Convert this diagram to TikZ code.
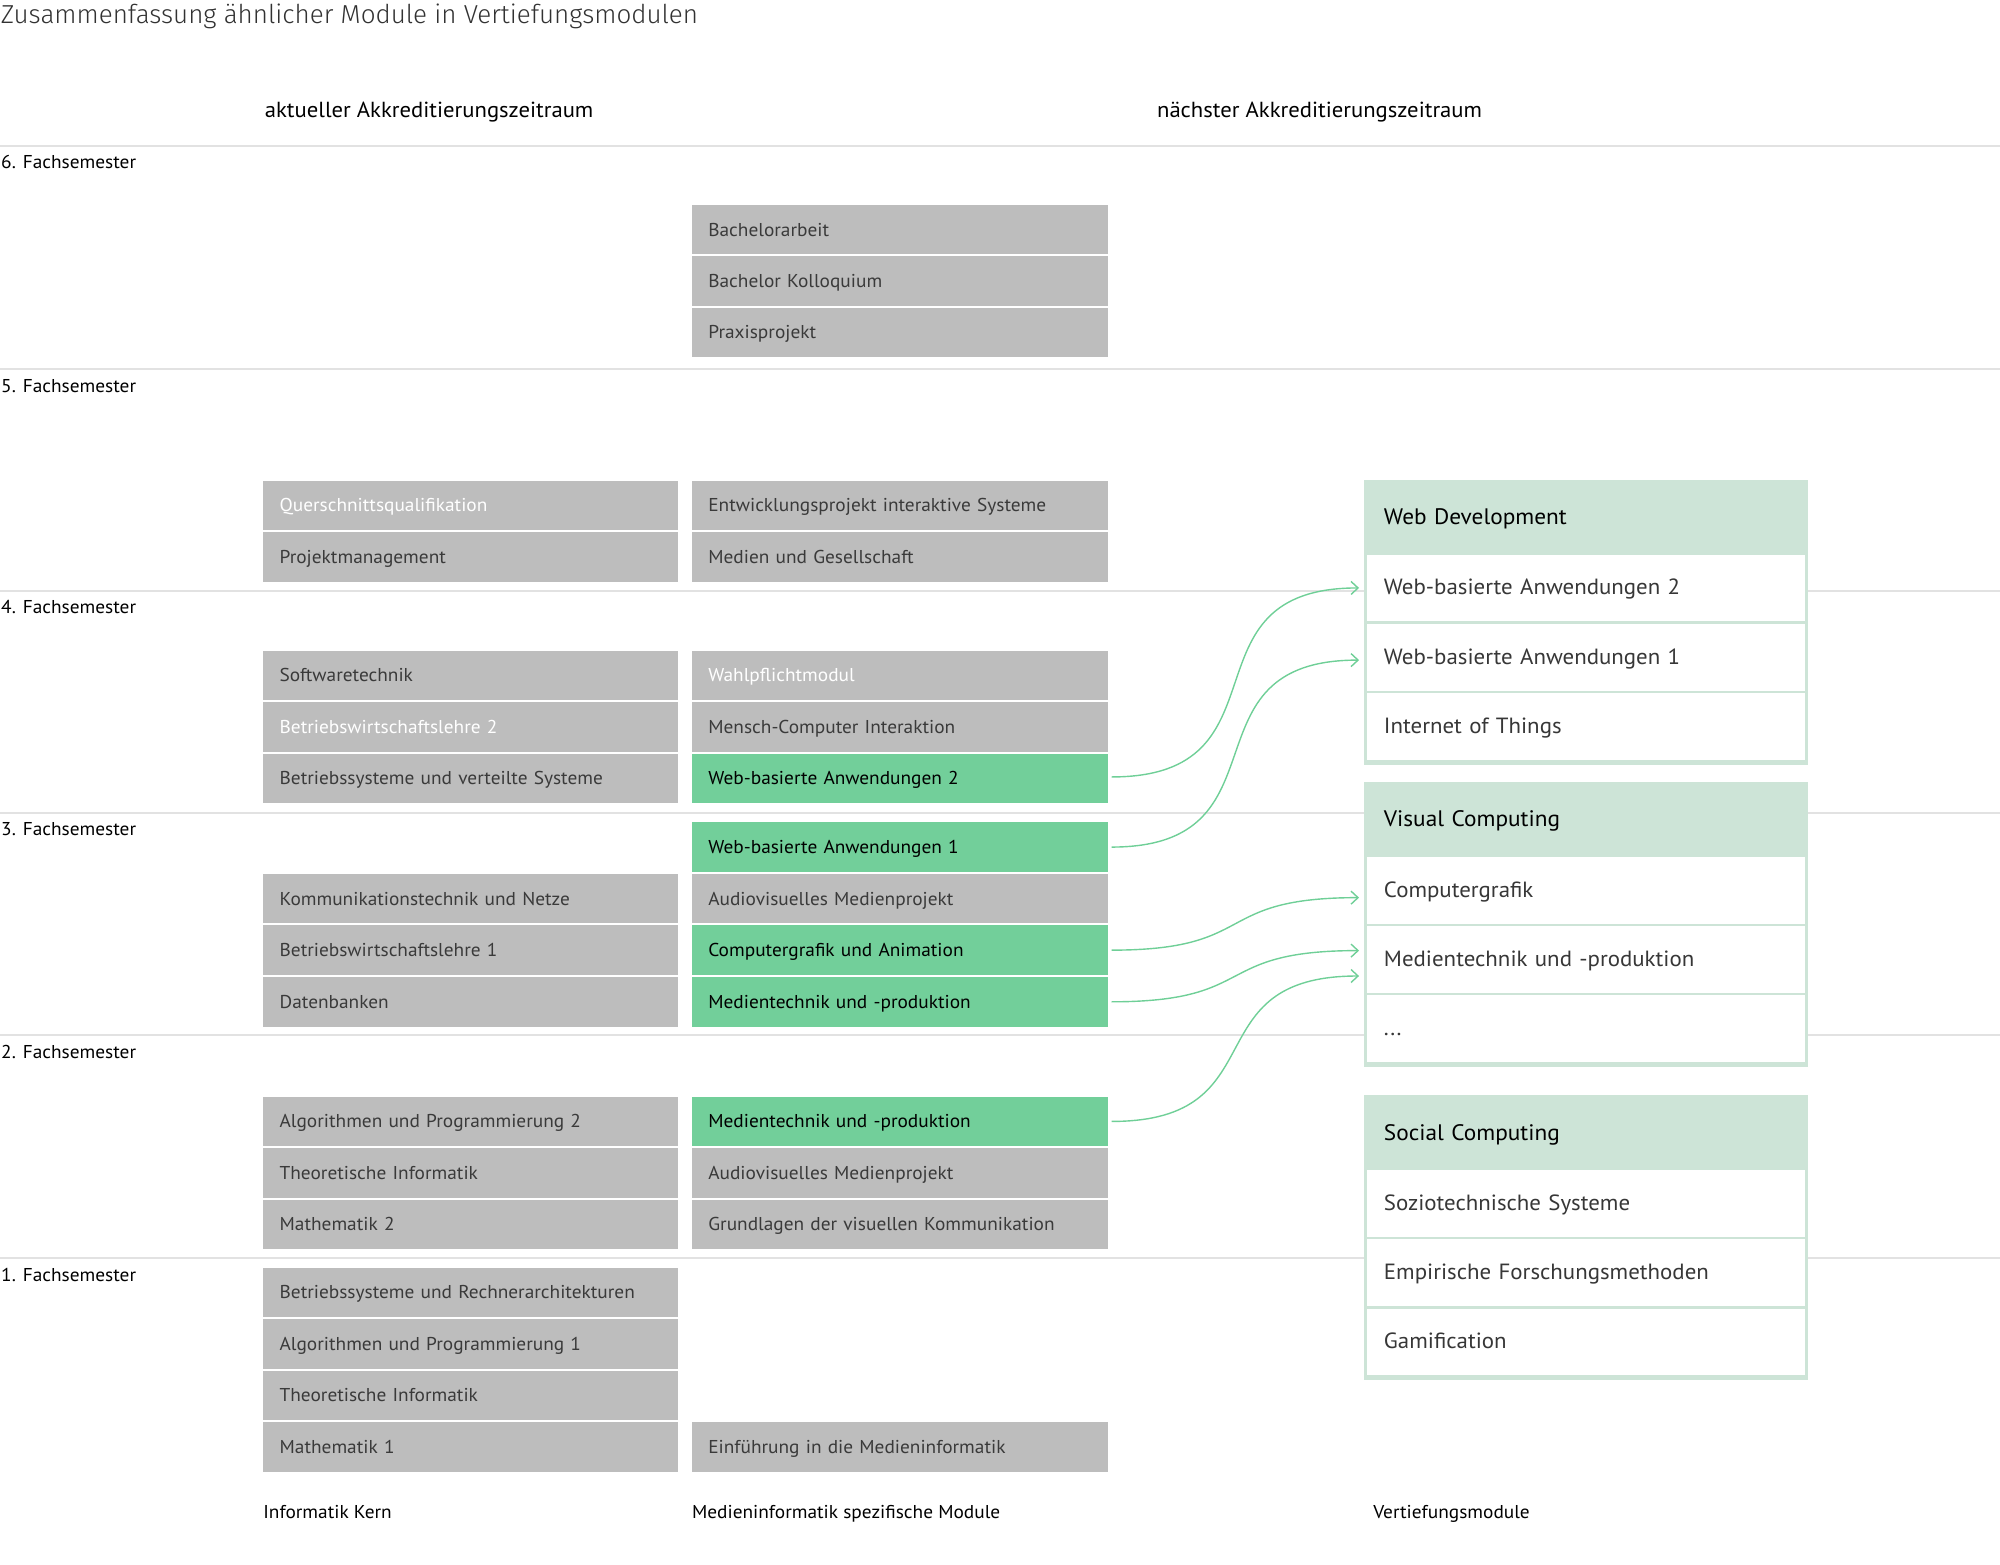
\documentclass[tikz,border=0pt]{standalone}
\usepackage{fontspec}
\setmainfont{PT Sans}[FakeStretch=1.04]
\IfFontExistsTF{Fira Sans Light}{\newfontfamily\titlefont{Fira Sans Light}}{\newfontfamily\titlefont{PT Sans}}
\usetikzlibrary{arrows.meta}
\definecolor{boxgray}{RGB}{189,189,189}
\definecolor{boxgreen}{RGB}{114,207,154}
\definecolor{grpgreen}{RGB}{205,228,215}
\definecolor{sepgray}{RGB}{226,226,226}
\definecolor{linkgreen}{RGB}{111,207,151}
\definecolor{modtext}{RGB}{58,58,58}
\definecolor{itemtext}{RGB}{55,55,55}
\definecolor{titletext}{RGB}{50,50,50}
\tikzset{
  modbase/.style={rectangle, anchor=north west, outer sep=0pt, inner ysep=0pt, inner xsep=16.5pt,
    minimum height=49.5pt, text height=16.6pt, text depth=4pt, align=left,
    font=\fontsize{18.6}{21}\selectfont, text=modtext},
  lmod/.style={modbase, fill=boxgray, text width=381.5pt},
  mmod/.style={modbase, fill=boxgray, text width=383.3pt},
  lmodw/.style={lmod, text=white},
  mmodw/.style={mmod, text=white},
  mgreen/.style={mmod, fill=boxgreen, text=black},
  grpbox/.style={rectangle, anchor=north west, outer sep=0pt, inner sep=0pt, fill=grpgreen,
    minimum width=444.3pt, minimum height=285pt},
  grphead/.style={rectangle, anchor=north west, outer sep=0pt, inner ysep=0pt, inner xsep=19.9pt,
    fill=grpgreen, minimum height=74.4pt, text height=20.6pt, text depth=5pt, text width=404.5pt, align=left,
    font=\fontsize{22.4}{26}\selectfont, text=black},
  grpitem/.style={rectangle, anchor=north west, outer sep=0pt, inner ysep=0pt, inner xsep=16.6pt,
    fill=white, minimum height=66.7pt, text height=19pt, text depth=5pt, text width=404.8pt, align=left,
    font=\fontsize{22}{26}\selectfont, text=itemtext},
  sepline/.style={draw=sepgray, line width=2pt},
  semlabel/.style={anchor=base west, inner sep=0pt, font=\fontsize{18.6}{21}\selectfont, text=black},
  collabel/.style={anchor=base west, inner sep=0pt, font=\fontsize{18.6}{21}\selectfont, text=black},
  headlabel/.style={anchor=base west, inner sep=0pt, font=\fontsize{21.8}{25}\selectfont, text=black},
  link/.style={draw=linkgreen, line width=1.4pt, -{Straight Barb[length=7pt,width=13pt,line width=1.4pt]}}
}
\begin{document}
\begin{tikzpicture}[x=1.2755pt,y=-1.2755pt]
\useasboundingbox (0,0) rectangle (1568,1226.2);
% title and headings
\node[anchor=base west, inner sep=0pt, font=\titlefont\fontsize{26}{30}\selectfont, text=titletext] (title) at (0.5,18.3) {Zusammenfassung ähnlicher Module in Vertiefungsmodulen};
\node[headlabel] (akt) at (207.5,92) {aktueller Akkreditierungszeitraum};
\node[headlabel] (nae) at (907,92) {nächster Akkreditierungszeitraum};
% separator lines
\draw[sepline] (0,114.2) -- (1568,114.2);
\draw[sepline] (0,289.6) -- (1568,289.6);
\draw[sepline] (0,463.4) -- (1568,463.4);
\draw[sepline] (0,637) -- (1568,637);
\draw[sepline] (0,811.7) -- (1568,811.7);
\draw[sepline] (0,986.5) -- (1568,986.5);
% semester labels
\node[semlabel] (s6) at (0.8,132) {6. Fachsemester};
\node[semlabel] (s5) at (0.8,307.4) {5. Fachsemester};
\node[semlabel] (s4) at (0.8,481.2) {4. Fachsemester};
\node[semlabel] (s3) at (0.8,654.8) {3. Fachsemester};
\node[semlabel] (s2) at (0.8,829.5) {2. Fachsemester};
\node[semlabel] (s1) at (0.8,1004.3) {1. Fachsemester};
% semester 6
\node[mmod] (m61) at (542.4,160.7) {Bachelorarbeit};
\node[mmod] (m62) at (542.4,200.9) {Bachelor Kolloquium};
\node[mmod] (m63) at (542.4,241.2) {Praxisprojekt};
% semester 5
\node[lmodw] (l51) at (206.3,377) {Querschnittsqualifikation};
\node[lmod] (l52) at (206.3,417.3) {Projektmanagement};
\node[mmod] (m51) at (542.4,377) {Entwicklungsprojekt interaktive Systeme};
\node[mmod] (m52) at (542.4,417.3) {Medien und Gesellschaft};
% semester 4
\node[lmod] (l41) at (206.3,510.1) {Softwaretechnik};
\node[lmodw] (l42) at (206.3,550.5) {Betriebswirtschaftslehre 2};
\node[lmod] (l43) at (206.3,590.9) {Betriebssysteme und verteilte Systeme};
\node[mmodw] (m41) at (542.4,510.1) {Wahlpflichtmodul};
\node[mmod] (m42) at (542.4,550.5) {Mensch-Computer Interaktion};
\node[mgreen] (m43) at (542.4,590.9) {Web-basierte Anwendungen 2};
% semester 3
\node[mgreen] (m30) at (542.4,644.7) {Web-basierte Anwendungen 1};
\node[lmod] (l31) at (206.3,685.2) {Kommunikationstechnik und Netze};
\node[lmod] (l32) at (206.3,725.5) {Betriebswirtschaftslehre 1};
\node[lmod] (l33) at (206.3,766) {Datenbanken};
\node[mmod] (m31) at (542.4,685.2) {Audiovisuelles Medienprojekt};
\node[mgreen] (m32) at (542.4,725.5) {Computergrafik und Animation};
\node[mgreen] (m33) at (542.4,766) {Medientechnik und -produktion};
% semester 2
\node[lmod] (l21) at (206.3,859.8) {Algorithmen und Programmierung 2};
\node[lmod] (l22) at (206.3,900.2) {Theoretische Informatik};
\node[lmod] (l23) at (206.3,940.5) {Mathematik 2};
\node[mgreen] (m21) at (542.4,859.8) {Medientechnik und -produktion};
\node[mmod] (m22) at (542.4,900.2) {Audiovisuelles Medienprojekt};
\node[mmod] (m23) at (542.4,940.5) {Grundlagen der visuellen Kommunikation};
% semester 1
\node[lmod] (l11) at (206.3,994) {Betriebssysteme und Rechnerarchitekturen};
\node[lmod] (l12) at (206.3,1034.3) {Algorithmen und Programmierung 1};
\node[lmod] (l13) at (206.3,1074.6) {Theoretische Informatik};
\node[lmod] (l14) at (206.3,1115) {Mathematik 1};
\node[mmod] (m11) at (542.4,1115) {Einführung in die Medieninformatik};
% column labels
\node[collabel] (c1) at (206.3,1190.6) {Informatik Kern};
\node[collabel] (c2) at (542.4,1190.6) {Medieninformatik spezifische Module};
\node[collabel] (c3) at (1076.5,1190.6) {Vertiefungsmodule};
% group: Web Development
\node[grpbox] (wdg) at (1069.4,376) {};
\node[grphead] (wdh) at (1069.4,376) {Web Development};
\node[grpitem] (wd1) at (1072,434.8) {Web-basierte Anwendungen 2};
\node[grpitem] (wd2) at (1072,489.1) {Web-basierte Anwendungen 1};
\node[grpitem] (wd3) at (1072,543.4) {Internet of Things};
% group: Visual Computing
\node[grpbox] (vcg) at (1069.4,613) {};
\node[grphead] (vch) at (1069.4,613) {Visual Computing};
\node[grpitem] (vc1) at (1072,671.8) {Computergrafik};
\node[grpitem] (vc2) at (1072,726.1) {Medientechnik und -produktion};
\node[grpitem] (vc3) at (1072,780.4) {...};
% group: Social Computing
\node[grpbox] (scg) at (1069.4,858.5) {};
\node[grphead] (sch) at (1069.4,858.5) {Social Computing};
\node[grpitem] (sc1) at (1072,917.3) {Soziotechnische Systeme};
\node[grpitem] (sc2) at (1072,971.6) {Empirische Forschungsmethoden};
\node[grpitem] (sc3) at (1072,1025.9) {Gamification};
% links
\draw[link] ([xshift=3.4pt,yshift=1.5pt]m43.east) to[out=0,in=180,looseness=1.5] ([xshift=-8.3pt]wd1.west);
\draw[link] ([xshift=3.4pt]m30.east) to[out=0,in=180,looseness=1.5] ([xshift=-8.3pt,yshift=-2.9pt]wd2.west);
\draw[link] ([xshift=3.4pt]m32.east) to[out=0,in=180,looseness=1.5] ([xshift=-8.3pt,yshift=-7.4pt]vc1.west);
\draw[link] ([xshift=3.4pt]m33.east) to[out=0,in=180,looseness=1.5] ([xshift=-8.3pt,yshift=8.9pt]vc2.west);
\draw[link] ([xshift=3.4pt]m21.east) to[out=0,in=180,looseness=1.5] ([xshift=-8.3pt,yshift=-16.5pt]vc2.west);
\end{tikzpicture}
\end{document}
